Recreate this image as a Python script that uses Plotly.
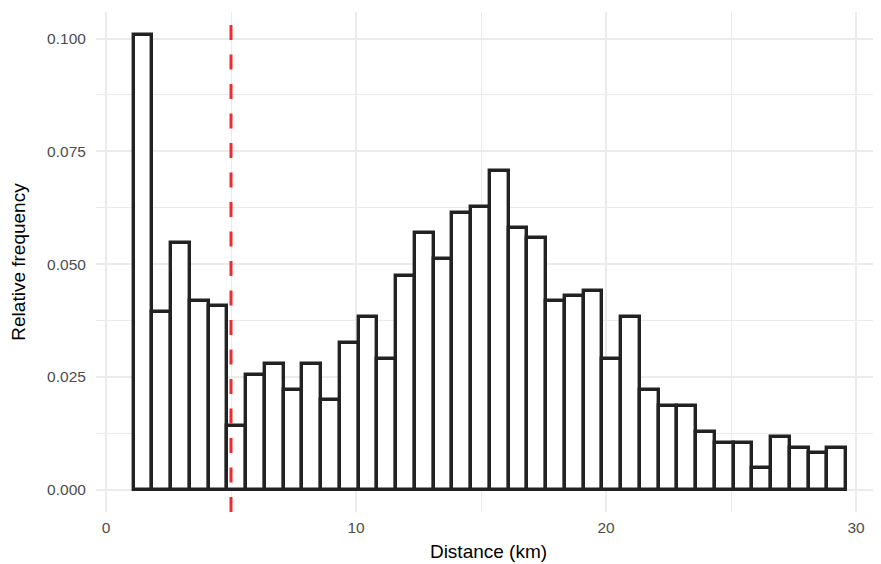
import plotly.graph_objects as go

# Histogram bin centres (km) and relative frequencies
bin_centers = [1.475, 2.225, 2.975, 3.725, 4.475, 5.225, 5.975, 6.725, 7.475, 8.225,
               8.975, 9.725, 10.475, 11.225, 11.975, 12.725, 13.475, 14.225, 14.975, 15.725,
               16.475, 17.225, 17.975, 18.725, 19.475, 20.225, 20.975, 21.725, 22.475, 23.225,
               23.975, 24.725, 25.475, 26.225, 26.975, 27.725, 28.475, 29.225]
bin_width = 0.75
rel_freq = [0.1009, 0.0394, 0.0546, 0.0418, 0.0406, 0.0141, 0.0255, 0.0278, 0.0221, 0.0278,
            0.0198, 0.0326, 0.0383, 0.0289, 0.0474, 0.0569, 0.0511, 0.0614, 0.0626, 0.0707,
            0.0580, 0.0557, 0.0418, 0.0430, 0.0440, 0.0289, 0.0383, 0.0221, 0.0186, 0.0186,
            0.0128, 0.0104, 0.0104, 0.0047, 0.0117, 0.0093, 0.0082, 0.0093]
threshold_km = 5

y_ticks = [0, 0.025, 0.05, 0.075, 0.1]
x_ticks = [0, 10, 20, 30]

fig = go.Figure()
fig.add_trace(go.Bar(
    x=bin_centers, y=rel_freq, width=bin_width,
    marker=dict(color="white", line=dict(color="#222222", width=3.4)),
    hoverinfo="x+y",
))

fig.add_shape(type="line", xref="x", yref="paper",
              x0=threshold_km, x1=threshold_km, y0=0, y1=1,
              line=dict(color="#EE2A33", width=3, dash="15px,14.5px"))

grid = "#EBEBEB"
fig.update_layout(
    width=873, height=556,
    margin=dict(l=88, r=0, t=4, b=52),
    paper_bgcolor="white", plot_bgcolor="white",
    bargap=0, showlegend=False,
    font=dict(family="Liberation Sans, Arial, sans-serif", color="#4D4D4D"),
    xaxis=dict(
        range=[-0.4, 31.0], tickvals=x_ticks, ticktext=[str(v) for v in x_ticks],
        showgrid=True, gridcolor=grid, gridwidth=1.6, zeroline=False,
        minor=dict(dtick=5, showgrid=True, gridcolor=grid, gridwidth=1),
        ticks="outside", ticklen=1, tickcolor="rgba(0,0,0,0)",
        tickfont=dict(size=15.5, color="#4D4D4D"),
        title=dict(text="Distance (km)", font=dict(size=19, color="black"), standoff=10),
    ),
    yaxis=dict(
        range=[-0.00497, 0.1059], tickvals=y_ticks, tickformat=".3f",
        showgrid=True, gridcolor=grid, gridwidth=1.6, zeroline=False,
        minor=dict(dtick=0.0125, showgrid=True, gridcolor=grid, gridwidth=1),
        ticks="outside", ticklen=6, tickcolor="rgba(0,0,0,0)",
        tickfont=dict(size=15.5, color="#4D4D4D"),
        title=dict(text="Relative frequency", font=dict(size=19, color="black"), standoff=19),
    ),
)

fig.write_html("out.html")
